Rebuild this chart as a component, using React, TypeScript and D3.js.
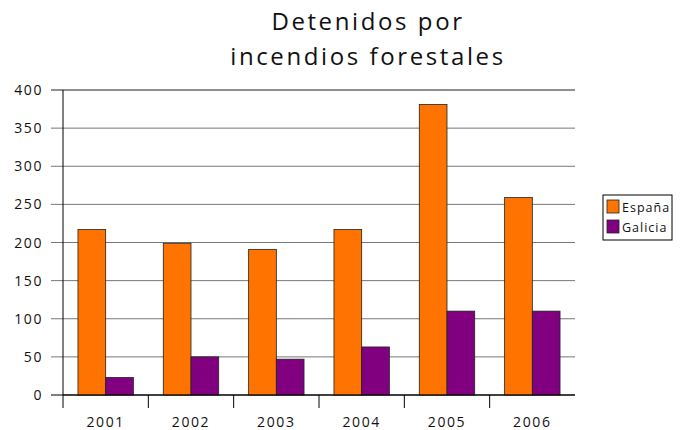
import React from 'react';
import * as d3 from 'd3';

const years = ['2001', '2002', '2003', '2004', '2005', '2006'];
const espana = [217, 199, 191, 217, 381, 259];
const galicia = [23, 50, 47, 63, 110, 110];
const seriesNames = ['España', 'Galicia'];
const seriesColors = ['#FF7300', '#800080'];
const yTicks = [0, 50, 100, 150, 200, 250, 300, 350, 400];

const W = 683;
const H = 430;
const left = 63;
const right = 575;
const top = 90;
const bottom = 395;
const font = '"Open Sans", "DejaVu Sans", sans-serif';

const App: React.FC = () => {
  const x = d3.scaleBand<string>().domain(years).range([left, right]).paddingInner(0).paddingOuter(0);
  const inner = d3.scaleBand<number>().domain([0, 1]).range([0, x.bandwidth()]).paddingOuter(0.54).paddingInner(0);
  const y = d3.scaleLinear().domain([0, 400]).range([bottom, top]);
  const series = [espana, galicia];

  return (
    <svg width={W} height={H} style={{ position: 'absolute', left: 0, top: 0, background: '#fff' }}>
      <g fontFamily={font} fill="#111">
        <text x={368} y={30} textAnchor="middle" fontSize={24} letterSpacing={2.6}>Detenidos por</text>
        <text x={368} y={65} textAnchor="middle" fontSize={24} letterSpacing={2.6}>incendios forestales</text>
      </g>

      {/* grid lines + y tick labels */}
      {yTicks.map(t => (
        <g key={t}>
          <line x1={51} x2={right} y1={y(t)} y2={y(t)}
            stroke={t === 400 ? '#222' : t === 0 ? '#000' : '#777'} strokeWidth={t === 400 ? 1.2 : 1} />
          <text x={43} y={y(t) + 5} textAnchor="end" fontFamily={font} fontSize={14} letterSpacing={1.6} fill="#111">{t}</text>
        </g>
      ))}

      {/* bars */}
      {years.map((yr, i) => (
        <g key={yr}>
          {series.map((s, k) => (
            <rect key={k}
              x={(x(yr) as number) + (inner(k) as number)}
              y={y(s[i])}
              width={inner.bandwidth()}
              height={bottom - y(s[i])}
              fill={seriesColors[k]}
              stroke="#222" strokeWidth={0.8} />
          ))}
        </g>
      ))}

      {/* axes */}
      <line x1={left} x2={left} y1={top} y2={408} stroke="#000" strokeWidth={1} />
      <line x1={left} x2={right} y1={bottom} y2={bottom} stroke="#000" strokeWidth={1} />
      {years.map((yr, i) => (
        <g key={yr}>
          {i > 0 && <line x1={x(yr)} x2={x(yr)} y1={bottom} y2={408} stroke="#000" strokeWidth={1} />}
          <text x={(x(yr) as number) + x.bandwidth() / 2} y={427} textAnchor="middle"
            fontFamily={font} fontSize={14} letterSpacing={1.6} fill="#111">{yr}</text>
        </g>
      ))}

      {/* legend */}
      <rect x={603} y={195} width={69} height={45} fill="#fff" stroke="#000" strokeWidth={1} />
      {seriesNames.map((n, k) => (
        <g key={n}>
          <rect x={607} y={200 + k * 20} width={12} height={13} fill={seriesColors[k]} stroke="#222" strokeWidth={0.8} />
          <text x={622} y={212 + k * 20} fontFamily={font} fontSize={12.5} letterSpacing={1} fill="#111">{n}</text>
        </g>
      ))}
    </svg>
  );
};

export default App;
